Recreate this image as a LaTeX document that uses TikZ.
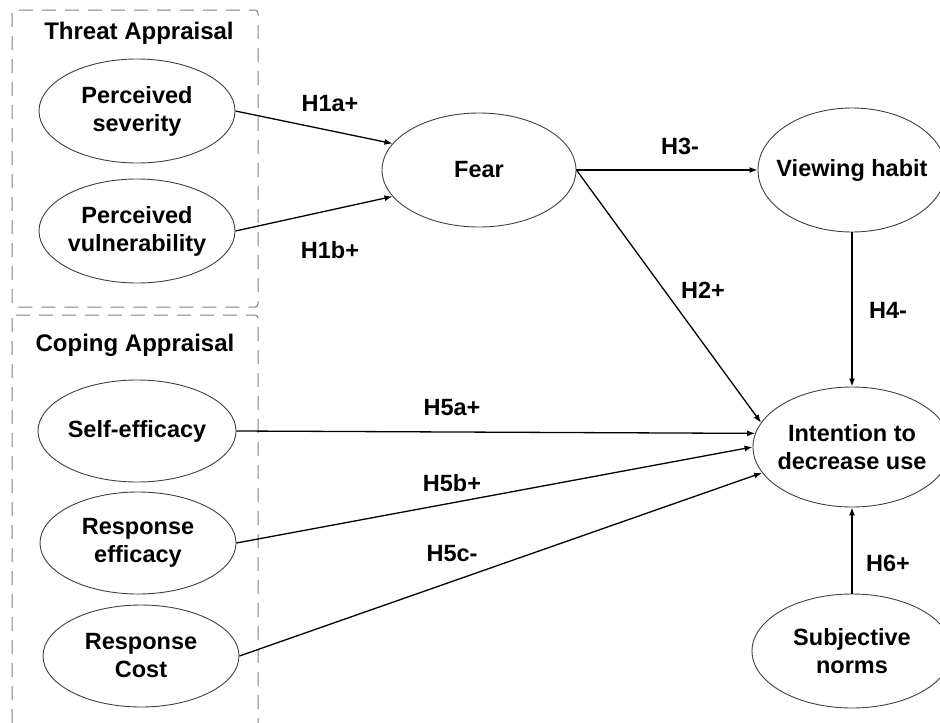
\documentclass[tikz,border=0pt]{standalone}
\usepackage{fontspec}
\setmainfont{Liberation Sans}
\usetikzlibrary{shapes.geometric,arrows.meta}
\begin{document}
\begin{tikzpicture}[x=1pt,y=-1pt]
        \tikzset{
            construct/.style={ellipse,draw=black!75,line width=0.9pt,inner xsep=-12pt,inner ysep=0pt,
                    align=center,minimum width=196pt,minimum height=104pt,
                    font=\bfseries\fontsize{23.5}{28}\selectfont},
            effect/.style={-{Latex[length=8pt,width=6pt]},line width=1.3pt},
            hyp/.style={font=\bfseries\fontsize{23.5}{28}\selectfont},
            appraisal/.style={draw=black!50,dash pattern=on 14pt off 9pt,rounded corners=3pt,line width=1pt}
        }
        \useasboundingbox (0,0) rectangle (940,723);

        \draw[appraisal] (12,10) rectangle (258,307);
        \draw[appraisal] (12,315) rectangle (258,760);
        \node[hyp,font=\bfseries\fontsize{24}{28}\selectfont] (threat) at (139,33) {Threat Appraisal};
        \node[hyp,font=\bfseries\fontsize{24}{28}\selectfont] (coping) at (135,345) {Coping Appraisal};

        \node[construct] (sev) at (137,111) {Perceived\\severity};
        \node[construct] (vul) at (137,231) {Perceived\\vulnerability};
        \node[construct,minimum width=198pt,minimum height=102pt] (self) at (137,431) {Self-efficacy};
        \node[construct,minimum height=102pt] (reff) at (138,543) {Response\\efficacy};
        \node[construct,minimum height=102pt] (rcost) at (141,656) {Response\\Cost};

        \node[construct,minimum width=194pt,minimum height=114pt] (fear) at (479,170) {Fear};
        \node[construct,minimum width=188pt,minimum height=124pt] (habit) at (852,170) {Viewing habit};
        \node[construct,minimum width=198pt,minimum height=120pt] (intent) at (852,447) {Intention to\\decrease use};
        \node[construct,minimum width=200pt,minimum height=114pt] (norms) at (852,651) {Subjective\\norms};

        \draw[effect] (sev.east) -- (fear.163);
        \draw[effect] (vul.east) -- (fear.197);
        \draw[effect] (fear.east) -- (habit.west);
        \draw[effect] (fear.east) -- (intent.165);
        \draw[effect] (habit.south) -- (intent.north);
        \draw[effect] (self.east) -- (intent.172);
        \draw[effect] (reff.east) -- (intent.180);
        \draw[effect] (rcost.east) -- (intent.196);
        \draw[effect] (norms.north) -- (intent.south);

        \node[hyp] (h1a) at (330,104) {H1a+};
        \node[hyp] (h1b) at (330,250) {H1b+};
        \node[hyp] (h3) at (680,146) {H3-};
        \node[hyp] (h2) at (703,290) {H2+};
        \node[hyp] (h4) at (888,310) {H4-};
        \node[hyp] (h5a) at (452,408) {H5a+};
        \node[hyp] (h5b) at (452,483) {H5b+};
        \node[hyp] (h5c) at (452,554) {H5c-};
        \node[hyp] (h6) at (888,563) {H6+};

    \end{tikzpicture}
\end{document}
